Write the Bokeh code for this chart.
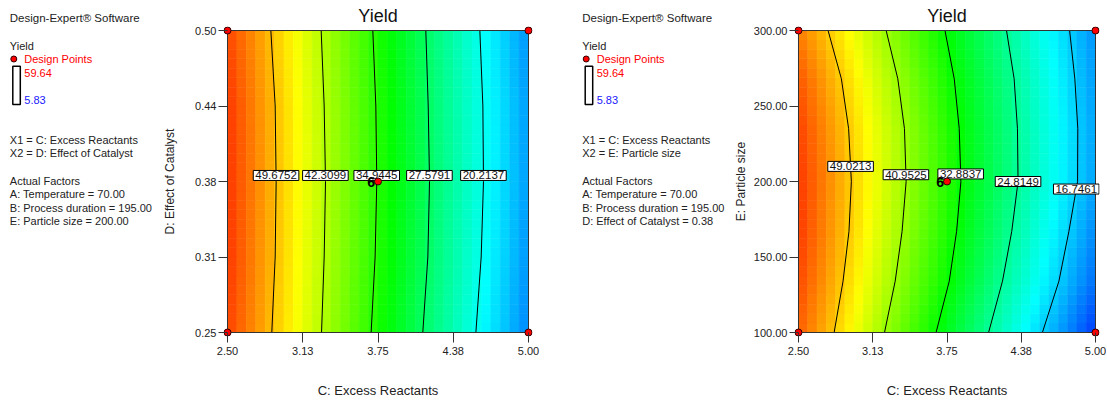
import numpy as np
from bokeh.plotting import figure
from bokeh.layouts import row
from bokeh.models import Range1d, FixedTicker
from bokeh.core.properties import value
from bokeh.embed import file_html
from bokeh.resources import INLINE

FONT = "Liberation Sans"
TXT = "#222222"

# ---------------- data ----------------
x_ticks = [2.5, 3.125, 3.75, 4.375, 5.0]
x_tick_labels = ["2.50", "3.13", "3.75", "4.38", "5.00"]
x_min, x_max = 2.5, 5.0
response_low, response_high = 5.83, 59.64

# panel 1 : C (Excess Reactants) vs D (Effect of Catalyst)
p1_y_ticks = [0.25, 0.3125, 0.375, 0.4375, 0.5]
p1_y_tick_labels = ["0.25", "0.31", "0.38", "0.44", "0.50"]
p1_levels = [49.6752, 42.3099, 34.9445, 27.5791, 20.2137]
p1_contour_y = [0.25, 0.3125, 0.375, 0.4375, 0.50]
p1_contour_x = [
    [2.868, 2.896, 2.904, 2.896, 2.860],
    [3.281, 3.303, 3.314, 3.303, 3.278],
    [3.693, 3.726, 3.740, 3.732, 3.707],
    [4.122, 4.164, 4.178, 4.167, 4.147],
    [4.563, 4.607, 4.626, 4.621, 4.596],
]
p1_label_y = [0.380, 0.380, 0.380, 0.380, 0.380]
p1_design_x = [2.5, 2.5, 5.0, 5.0, 3.75]
p1_design_y = [0.25, 0.50, 0.25, 0.50, 0.375]

# panel 2 : C (Excess Reactants) vs E (Particle size)
p2_y_ticks = [100, 150, 200, 250, 300]
p2_y_tick_labels = ["100.00", "150.00", "200.00", "250.00", "300.00"]
p2_levels = [49.0213, 40.9525, 32.8837, 24.8149, 16.7461]
p2_contour_y = [100, 134, 167, 200, 235, 268, 300]
p2_contour_x = [
    [2.800, 2.875, 2.925, 2.945, 2.922, 2.861, 2.749],
    [3.224, 3.314, 3.372, 3.406, 3.392, 3.336, 3.238],
    [3.658, 3.769, 3.831, 3.867, 3.853, 3.811, 3.733],
    [4.100, 4.217, 4.295, 4.348, 4.343, 4.315, 4.251],
    [4.553, 4.692, 4.776, 4.849, 4.851, 4.826, 4.782],
]
p2_label_y = [210, 204.5, 205, 200, 195]
p2_design_x = [2.5, 2.5, 5.0, 5.0, 3.75]
p2_design_y = [100, 300, 100, 300, 200]

info1 = ["X1 = C: Excess Reactants", "X2 = D: Effect of Catalyst",
         "Actual Factors", "A: Temperature = 70.00", "B: Process duration = 195.00",
         "E: Particle size = 200.00"]
info2 = ["X1 = C: Excess Reactants", "X2 = E: Particle size",
         "Actual Factors", "A: Temperature = 70.00", "B: Process duration = 195.00",
         "D: Effect of Catalyst = 0.38"]

# ---------------- layout constants ----------------
H = 400          # every figure
TOP = 26         # top border (title)
BOTTOM = 64      # bottom border (x axis)
PAD = 4          # px between frame edge and data rectangle
FRAME_TOP = TOP
FRAME_BOTTOM = H - BOTTOM


def colour(v):
    t = (v - response_low) / (response_high - response_low)
    t = min(max(t, 0.0), 1.0)
    stops = [(0, 0, 255), (0, 255, 255), (0, 255, 0), (255, 255, 0), (255, 0, 0)]
    seg = min(int(t * 4), 3)
    f = t * 4 - seg
    a, b = stops[seg], stops[seg + 1]
    c = [int(round(a[k] + (b[k] - a[k]) * f)) for k in range(3)]
    return "#%02x%02x%02x" % tuple(c)


def field(xc, yc, cy, cx, levels):
    xs = np.array([np.interp(yc, cy, r) for r in cx])
    lv = np.array(levels)
    if xc <= xs[0]:
        s = (lv[1] - lv[0]) / (xs[1] - xs[0])
        return lv[0] + s * (xc - xs[0])
    if xc >= xs[-1]:
        s = (lv[-1] - lv[-2]) / (xs[-1] - xs[-2])
        return lv[-1] + s * (xc - xs[-1])
    return float(np.interp(xc, xs, lv))


def text_panel(left, width, x0, info):
    # ranges in page pixels so that text positions are read straight off the reference
    t = figure(width=width, height=H, x_range=Range1d(left, left + width),
               y_range=Range1d(FRAME_BOTTOM, FRAME_TOP),
               x_axis_type=None, y_axis_type=None, min_border_left=0, min_border_right=0,
               min_border_top=TOP, min_border_bottom=BOTTOM, toolbar_location=None,
               output_backend="svg", outline_line_color=None,
               title="Design-Expert\u00ae Software")
    t.title.text_font = FONT
    t.title.text_font_size = "11.5px"
    t.title.text_font_style = "normal"
    t.title.text_color = TXT
    t.title.align = "left"
    t.title.offset = x0 - left
    t.title.standoff = 5
    t.grid.visible = False
    t.text(x=[x0], y=[45], text=["Yield"], text_font=value(FONT),
           text_font_size="11px", text_color=TXT, text_baseline="middle")
    t.scatter(x=[x0 + 4], y=[58.5], size=6, fill_color="red", line_color="#300000", line_width=1)
    t.text(x=[x0 + 14.5], y=[58.5], text=["Design Points"], text_font=value(FONT),
           text_font_size="11px", text_color="#ff0000", text_baseline="middle")
    t.quad(left=[x0 + 3], right=[x0 + 10.5], top=[65.7], bottom=[104], fill_color=None,
           line_color="black", line_width=1.5)
    t.text(x=[x0 + 14.5], y=[72.3], text=["59.64"], text_font=value(FONT),
           text_font_size="11px", text_color="#ff0000", text_baseline="middle")
    t.text(x=[x0 + 14.5], y=[99], text=["5.83"], text_font=value(FONT),
           text_font_size="11px", text_color="#2020ff", text_baseline="middle")
    ys = [139.3, 152.7, 180, 193.5, 207, 220.5]
    t.text(x=[x0] * len(info), y=ys, text=info, text_font=value(FONT), text_font_size="11px",
           text_color=TXT, text_baseline="middle")
    return t


def contour_panel(width, right_border, y0, y1, y_ticks, y_tick_labels,
                  y_label, y_label_standoff, cy, cx, levels, label_y, dx, dy):
    frame_w = width - 63 - right_border
    frame_h = H - TOP - BOTTOM
    data_w = frame_w - 2 * PAD
    data_h = frame_h - 2 * PAD
    pad_x = PAD * (x_max - x_min) / data_w
    pad_y = PAD * (y1 - y0) / data_h
    p = figure(width=width, height=H,
               x_range=Range1d(x_min - pad_x, x_max + pad_x),
               y_range=Range1d(y0 - pad_y, y1 + pad_y),
               min_border_left=63, min_border_right=right_border,
               min_border_top=TOP, min_border_bottom=BOTTOM,
               toolbar_location=None, output_backend="svg", title="Yield")
    p.outline_line_color = None
    p.grid.visible = False
    p.title.text_font = FONT
    p.title.text_font_size = "18px"
    p.title.text_font_style = "normal"
    p.title.text_color = "#111111"
    p.title.align = "center"
    p.title.standoff = 1

    # colour cells
    nx, ny = 32, 32
    xe = np.linspace(x_min, x_max, nx + 1)
    ye = np.linspace(y0, y1, ny + 1)
    L, R, B, T, C = [], [], [], [], []
    for j in range(ny):
        yc = 0.5 * (ye[j] + ye[j + 1])
        for i in range(nx):
            xc = 0.5 * (xe[i] + xe[i + 1])
            v = field(xc, yc, cy, cx, levels)
            L.append(xe[i]); R.append(xe[i + 1]); B.append(ye[j]); T.append(ye[j + 1])
            C.append(colour(v))
    p.quad(left=L, right=R, bottom=B, top=T, fill_color=C, line_color=C, line_width=0.6)

    # contour lines
    p.multi_line(xs=[list(r) for r in cx], ys=[list(cy)] * len(cx), line_color="black", line_width=1)

    # data border
    p.quad(left=[x_min], right=[x_max], bottom=[y0], top=[y1], fill_color=None,
           line_color="#333333", line_width=1)

    # contour labels
    lx = [float(np.interp(ly, cy, r)) for ly, r in zip(label_y, cx)]
    p.text(x=lx, y=label_y, text=["%.4f" % l for l in levels], text_font=value(FONT),
           text_font_size="11.5px", text_color="#111111", text_align="center",
           text_baseline="middle", background_fill_color="white",
           border_line_color="black", border_line_width=1, padding=(2, 1))

    # design points
    p.scatter(x=dx, y=dy, size=7, fill_color="#ff0000", line_color="#300000", line_width=1)
    p.text(x=[dx[-1]], y=[dy[-1]], text=["6"], x_offset=-3, text_align="right",
           text_baseline="middle", text_font=value(FONT), text_font_size="14px",
           text_font_style="bold", text_color="black")

    # axes
    p.xaxis.ticker = FixedTicker(ticks=x_ticks)
    p.xaxis.major_label_overrides = {t: s for t, s in zip(x_ticks, x_tick_labels)}
    p.yaxis.ticker = FixedTicker(ticks=y_ticks)
    p.yaxis.major_label_overrides = {t: s for t, s in zip(y_ticks, y_tick_labels)}
    for ax in (p.xaxis, p.yaxis):
        ax.axis_line_color = None
        ax.major_tick_in = PAD
        ax.major_tick_out = 5
        ax.minor_tick_line_color = None
        ax.major_tick_line_color = "#333333"
        ax.major_label_text_font = FONT
        ax.major_label_text_font_size = "11px"
        ax.major_label_text_color = TXT
        ax.axis_label_text_font = FONT
        ax.axis_label_text_font_style = "normal"
        ax.axis_label_text_color = TXT
    p.xaxis.major_tick_out = 6
    p.xaxis.major_label_standoff = 4
    p.yaxis.major_label_standoff = 2
    p.xaxis.axis_label = "C: Excess Reactants"
    p.xaxis.axis_label_text_font_size = "13px"
    p.xaxis.axis_label_standoff = 25
    p.yaxis.axis_label = y_label
    p.yaxis.axis_label_text_font_size = "12px"
    p.yaxis.axis_label_standoff = y_label_standoff
    return p


t1 = text_panel(0, 160, 9.3, info1)
p1 = contour_panel(415, 43, 0.25, 0.50, p1_y_ticks, p1_y_tick_labels,
                   "D: Effect of Catalyst", 15, p1_contour_y, p1_contour_x, p1_levels,
                   p1_label_y, p1_design_x, p1_design_y)
t2 = text_panel(575, 155, 581.7, info2)
p2 = contour_panel(376, 7, 100, 300, p2_y_ticks, p2_y_tick_labels,
                   "E: Particle size", 3, p2_contour_y, p2_contour_x, p2_levels,
                   p2_label_y, p2_design_x, p2_design_y)

layout = row(t1, p1, t2, p2)
open("out.html", "w").write(file_html(layout, INLINE))
